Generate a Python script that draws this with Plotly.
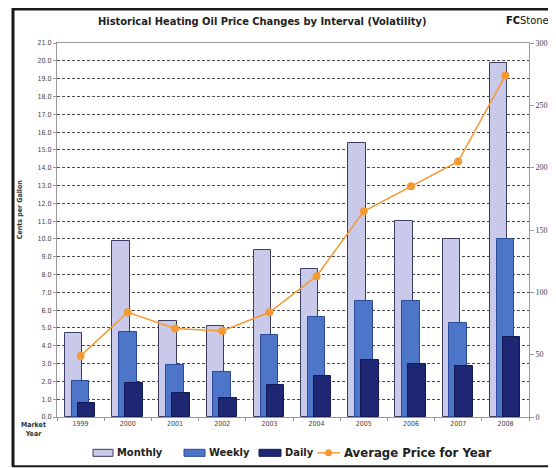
import plotly.graph_objects as go

years = ["1999", "2000", "2001", "2002", "2003", "2004", "2005", "2006", "2007", "2008"]
monthly = [4.7, 9.9, 5.4, 5.1, 9.4, 8.3, 15.4, 11.0, 10.0, 19.9]
weekly = [2.0, 4.8, 2.9, 2.5, 4.6, 5.6, 6.5, 6.5, 5.3, 10.0]
daily = [0.8, 1.9, 1.35, 1.05, 1.8, 2.3, 3.2, 3.0, 2.85, 4.5]
avg_price = [49, 84, 71, 69, 84, 113, 165, 185, 205, 274]

left_ticks = [i for i in range(0, 22)]
left_labels = [f"{v:.1f}" for v in left_ticks]
right_ticks = [0, 50, 100, 150, 200, 250, 300]

NARROW = "Liberation Sans Narrow, Arial Narrow, DejaVu Sans Condensed, sans-serif"

C_MONTH = "#c9c9e9"
C_MONTH_LINE = "#3c3c64"
C_WEEK = "#4d76c8"
C_WEEK_LINE = "#2a4a9a"
C_DAY = "#1f2775"
C_DAY_LINE = "#141a55"
C_AVG = "#f59a32"

fig = go.Figure()
fig.add_trace(go.Bar(x=years, y=monthly, name="Monthly", offset=-0.33, width=0.37,
                     marker=dict(color=C_MONTH, line=dict(color=C_MONTH_LINE, width=1)),
                     showlegend=False))
fig.add_trace(go.Bar(x=years, y=weekly, name="Weekly", offset=-0.185, width=0.37,
                     marker=dict(color=C_WEEK, line=dict(color=C_WEEK_LINE, width=1)),
                     showlegend=False))
fig.add_trace(go.Bar(x=years, y=daily, name="Daily", offset=-0.058, width=0.37,
                     marker=dict(color=C_DAY, line=dict(color=C_DAY_LINE, width=1)),
                     showlegend=False))
fig.add_trace(go.Scatter(x=years, y=avg_price, name="Average Price for Year", yaxis="y2",
                         mode="lines+markers",
                         line=dict(color=C_AVG, width=1.5),
                         marker=dict(color=C_AVG, size=8),
                         showlegend=False))

# page has an 8px body margin: figure is 548x460, drawn from (8, 8)
fig.update_layout(
    width=548, height=460,
    margin=dict(l=49, r=27, t=35, b=51.3, autoexpand=False),
    paper_bgcolor="white", plot_bgcolor="white",
    barmode="overlay",
    bargap=0,
    font=dict(family=NARROW, color="#333"),
    xaxis=dict(
        type="category", range=[-0.5, 9.5], automargin=False,
        showline=True, linecolor="#999", linewidth=1, mirror=True,
        ticks="outside", ticklen=3, tickcolor="#999", tickson="boundaries",
        showgrid=False,
        tickfont=dict(size=7, color="#444"),
    ),
    yaxis=dict(
        range=[0, 21], tickvals=left_ticks, ticktext=left_labels, automargin=False,
        showline=True, linecolor="#999", linewidth=1,
        ticks="outside", ticklen=3, tickcolor="#999",
        showgrid=True, gridcolor="#4a4a4a", gridwidth=1, griddash="3px,2px",
        zeroline=False,
        tickfont=dict(size=7, color="#444"),
    ),
    yaxis2=dict(
        range=[0, 300], tickvals=right_ticks, overlaying="y", side="right", automargin=False,
        showline=True, linecolor="#999", linewidth=1,
        ticks="outside", ticklen=4, tickcolor="#999",
        showgrid=False, zeroline=False,
        tickfont=dict(size=8, color="#444", family="Liberation Serif, serif"),
    ),
)

# helpers: screen pixel -> paper coords (plot area spans screen x 57..529, y 43..416.7)
def px(xp):
    return (xp - 57) / 472.0


def py(yp):
    return (416.7 - yp) / 373.7


def note(text, xs, ys, size, color="#222", xanchor="center", angle=0, family=NARROW):
    return dict(text=text, x=px(xs), y=py(ys), xref="paper", yref="paper", showarrow=False,
                xanchor=xanchor, yanchor="middle", textangle=angle,
                font=dict(size=size, color=color, family=family))


ann = [
    note("<b>Historical Heating Oil Price Changes by Interval (Volatility)</b>", 262, 22, 11),
    note("<b>FC</b>Stone", 504, 21, 11, color="#111", xanchor="left"),
    note("<b>Cents per Gallon</b>", 20, 210, 7, color="#333", angle=-90),
    note("Cents", 550, 230, 6, color="#555", angle=-90),
    note("<b>Market<br>Year</b>", 33, 429, 7, color="#333"),
]

shapes = []
# frame
shapes.append(dict(type="line", xref="paper", yref="paper", x0=px(13), x1=px(13), y0=py(8), y1=py(466),
                   line=dict(color="#1a1a1a", width=3)))
shapes.append(dict(type="line", xref="paper", yref="paper", x0=px(12), x1=px(560), y0=py(9), y1=py(9),
                   line=dict(color="#1a1a1a", width=3)))
shapes.append(dict(type="line", xref="paper", yref="paper", x0=px(12), x1=px(560), y0=py(466), y1=py(466),
                   line=dict(color="#1a1a1a", width=2)))

# manual legend (wide swatches like the original)
leg_y = 452.5
items = [("Monthly", C_MONTH, C_MONTH_LINE, 93, 113),
         ("Weekly", C_WEEK, C_WEEK_LINE, 184, 205),
         ("Daily", C_DAY, C_DAY_LINE, 259, 281)]
for name, fc, lc, x0, x1 in items:
    shapes.append(dict(type="rect", xref="paper", yref="paper", x0=px(x0), x1=px(x1),
                       y0=py(leg_y + 3.5), y1=py(leg_y - 3.5), fillcolor=fc, line=dict(color=lc, width=1)))
    ann.append(note("<b>" + name + "</b>", x1 + 2, leg_y, 11, xanchor="left"))
shapes.append(dict(type="line", xref="paper", yref="paper", x0=px(317), x1=px(340), y0=py(leg_y), y1=py(leg_y),
                   line=dict(color=C_AVG, width=1.5)))
shapes.append(dict(type="circle", xref="paper", yref="paper", x0=px(325), x1=px(332),
                   y0=py(leg_y + 3.5), y1=py(leg_y - 3.5), fillcolor=C_AVG, line=dict(color=C_AVG, width=0)))
ann.append(note("<b>Average Price for Year</b>", 342, leg_y, 13, xanchor="left"))

fig.update_layout(annotations=ann, shapes=shapes)
fig.write_html("out.html")
